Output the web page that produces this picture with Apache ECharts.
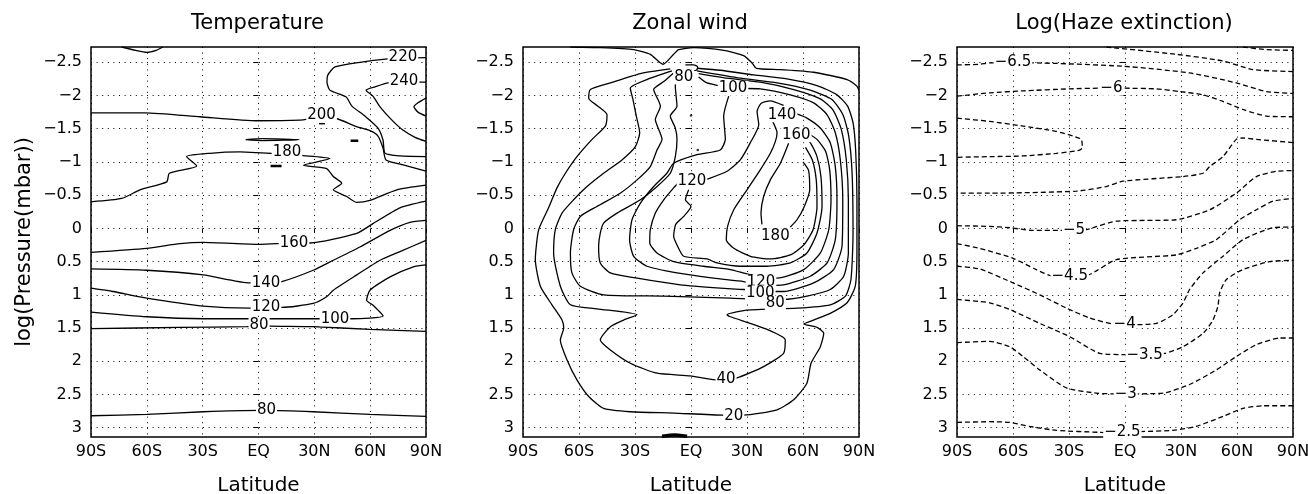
<!DOCTYPE html>
<html>
<head>
<meta charset="utf-8">
<script src="https://cdn.jsdelivr.net/npm/echarts@6.0.0/dist/echarts.min.js"></script>
<style>
  html, body { margin: 0; padding: 0; background: #fff; }
  #chart { width: 1308px; height: 494px; }
</style>
</head>
<body>
<div id="chart"></div>
<script>
// axis ticks
const latTicks = { '-90': '90S', '-60': '60S', '-30': '30S', '0': 'EQ', '30': '30N', '60': '60N', '90': '90N' };
const logpTicks = [-2.5, -2, -1.5, -1, -0.5, 0, 0.5, 1, 1.5, 2, 2.5, 3];
const titles = ['Temperature', 'Zonal wind', 'Log(Haze extinction)'];

// ---- Temperature contours  [lat, log p]
const tTopArc = [[-73.5,-2.73],[-66,-2.68],[-60.1,-2.65],[-55,-2.68],[-51.3,-2.73]];
const t220 = [[90,-2.57],[78.2,-2.56],[69.6,-2.55],[54.5,-2.50],[41.1,-2.43],[37.3,-2.31],[36.8,-2.20],[38.4,-2.08],[47,-1.98],[50.2,-1.84],[57.2,-1.69],[64.2,-1.51],[66.9,-1.33],[68,-1.13],[76,-1.09],[90,-1.08]];
const t240 = [[90,-2.20],[78.2,-2.20],[69.6,-2.19],[62.6,-2.13],[57.8,-2.08],[61.5,-1.99],[65.3,-1.83],[71.7,-1.63],[77.6,-1.48],[84.1,-1.37],[90,-1.31]];
const t260 = [[90,-1.96],[85.7,-1.89],[83.5,-1.83],[85.7,-1.75],[90,-1.69]];
const t200 = [[-90,-1.74],[-61,-1.74],[-31.4,-1.68],[-0.8,-1.62],[22.3,-1.63],[33.6,-1.66],[42.2,-1.65],[51.8,-1.54],[59.9,-1.47],[64.2,-1.39],[66.9,-1.21],[68.5,-1.03],[78.7,-0.95],[90,-0.86]];
const t180 = [[-90,-0.40],[-73.5,-0.45],[-63.7,-0.58],[-49.3,-0.70],[-47.9,-0.83],[-33.2,-0.94],[-38.6,-1.08],[-26.1,-1.13],[-9.9,-1.15],[7.1,-1.13],[15.3,-1.15],[23.2,-1.10],[38.4,-1.05],[24.1,-0.95],[36.6,-0.90],[40.2,-0.78],[44.7,-0.68],[40.2,-0.58],[47.4,-0.48],[52.8,-0.39],[59.9,-0.42],[74.3,-0.58],[90,-0.65]];
const tLens = [[-6.9,-1.335],[2,-1.35],[21.8,-1.335],[2,-1.322],[-6.9,-1.335]];
const tBit1 = [[49.5,-1.32],[53.6,-1.32]];
const tBit2 = [[6.5,-0.94],[12.4,-0.94]];
const tBit3 = [[32.5,-1.58],[35.7,-1.58]];
const t160 = [[-90,0.36],[-60.1,0.30],[-42.2,0.23],[-29.7,0.21],[0.8,0.24],[19.1,0.22],[27.7,0.22],[52.8,0.075],[61.7,-0.075],[76,-0.31],[90,-0.41]];
const t140 = [[-90,0.61],[-60.1,0.63],[-29.7,0.70],[-4.6,0.82],[4,0.82],[12.5,0.80],[29.4,0.63],[40.2,0.48],[54.5,0.28],[70.7,0.03],[81.4,-0.09],[90,-0.12]];
const t120 = [[-90,0.90],[-78.2,0.95],[-60.1,1.05],[-29.7,1.17],[-4.6,1.20],[4,1.18],[12.5,1.19],[29.4,1.13],[36.6,1.03],[40.2,0.93],[52.8,0.70],[65.3,0.48],[76,0.35],[90,0.18]];
const t100 = [[-90,1.26],[-60.1,1.33],[-29.7,1.36],[33,1.36],[41.1,1.36],[50.1,1.36],[67,1.32],[61.7,1.16],[58.1,1.08],[59.9,0.93],[70.7,0.73],[83.2,0.58],[90,0.55]];
const t80a = [[-90,1.51],[-42.2,1.49],[-6.3,1.48],[0.3,1.46],[6.2,1.47],[29.4,1.48],[59.9,1.52],[90,1.55]];
const t80b = [[-90,2.82],[-60.1,2.80],[-29.7,2.76],[0.8,2.74],[4.3,2.74],[29.4,2.76],[59.9,2.80],[90,2.83]];
const tempLabels = [['220',77.6,-2.58],['240',78.2,-2.21],['200',33.9,-1.70],['180',15.3,-1.15],['160',19.1,0.22],['140',4,0.82],['120',4,1.18],['100',41.1,1.36],['80',0.3,1.46],['80',4.3,2.74]];

// ---- Zonal wind contours
const wTop = [[-64.6,-2.73],[-48.6,-2.72],[-30.7,-2.69],[-21.8,-2.62],[-15,-2.47],[-9.3,-2.62],[-6.6,-2.69],[1.4,-2.72],[17.5,-2.68],[28.2,-2.60],[32.7,-2.49],[35,-2.41],[47.9,-2.39],[65.7,-2.35],[83.6,-2.24],[88.9,-2.14],[90,-2.08]];
const wA = [[-11.1,-2.40],[-27.1,-2.33],[-43.2,-2.19],[-53.9,-2.09],[-54.8,-1.96],[-50.4,-1.85],[-45,-1.71],[-45.9,-1.54],[-53,-1.34],[-61.1,-1.08],[-67.3,-0.83],[-71.8,-0.61],[-76.3,-0.31],[-81.6,0.02],[-83.4,0.47],[-80.7,0.87],[-74.5,1.15],[-69.1,1.38],[-68.2,1.50],[-70,1.68],[-66.4,1.98],[-61.1,2.28],[-54.8,2.53],[-46.8,2.71],[-32.5,2.76],[-9.3,2.78],[17.5,2.81],[28.2,2.81],[46.1,2.73],[55,2.58],[62.1,2.33],[64.3,2.03],[69.3,1.78],[71.1,1.58],[67.5,1.49],[60.4,1.44],[65.7,1.38],[74.6,1.28],[83.6,1.12],[88,0.87],[88.9,0.32],[88.9,-0.43],[88.2,-1.18],[86.8,-1.59],[83.9,-1.84],[78.2,-2.01],[67.5,-2.15],[51.4,-2.25],[33.6,-2.31],[15.7,-2.38],[3.2,-2.41]];
const wB = [[-10.2,-2.37],[-23.6,-2.24],[-32.5,-2.11],[-31.1,-1.94],[-29.3,-1.69],[-27.5,-1.44],[-29.8,-1.23],[-37,-1.03],[-46.8,-0.83],[-55.7,-0.63],[-62.9,-0.43],[-69.1,-0.23],[-72.7,0.02],[-73.6,0.37],[-70,0.87],[-64.6,1.15],[-50.4,1.21],[-28.9,1.30],[-36.1,1.38],[-43.2,1.48],[-48.6,1.68],[-43.2,1.83],[-32.5,2.03],[-18.2,2.18],[-0.4,2.22],[13,2.28],[24.6,2.25],[38.9,2.08],[49.6,1.88],[50.5,1.68],[38.9,1.50],[21.1,1.33],[19.3,1.30],[30,1.23],[56.8,1.20],[74.6,1.15],[82.7,1.02],[85.7,0.77],[86.8,0.07],[86.3,-0.83],[84.5,-1.39],[81.4,-1.71],[75.5,-1.94],[63.9,-2.08],[46.1,-2.19],[26.4,-2.26],[3.2,-2.37]];
const wC = [[-9.3,-2.34],[-14.6,-2.21],[-20,-2.09],[-16.4,-1.84],[-19.1,-1.64],[-15.5,-1.34],[-18.2,-1.18],[-21.8,-0.93],[-28.9,-0.73],[-37.9,-0.53],[-50.4,-0.33],[-59.3,-0.18],[-62.9,0.02],[-64.6,0.37],[-63.8,0.67],[-59.3,0.87],[-46.8,1.00],[-14.6,1.02],[21.1,1.05],[38.9,1.07],[49.6,1.07],[62.1,1.02],[74.6,0.92],[81.8,0.72],[84.3,0.37],[84.3,-0.43],[83.2,-1.03],[80.5,-1.49],[76.1,-1.78],[69.3,-1.95],[55,-2.09],[37.1,-2.20],[19.3,-2.26],[4.1,-2.33]];
const wD = [[-8.4,-2.29],[-8.4,-2.14],[-7.5,-1.84],[-11.1,-1.69],[-8.4,-1.51],[-7.5,-1.34],[-8.4,-1.08],[-11.1,-0.83],[-18.2,-0.63],[-27.1,-0.43],[-39.6,-0.23],[-46.8,-0.08],[-48.6,0.07],[-49.5,0.27],[-48.6,0.52],[-43.2,0.67],[-28.9,0.75],[-5.7,0.85],[15.7,0.90],[28.2,0.92],[38.9,0.95],[49.6,0.95],[65.7,0.82],[76.4,0.62],[80.9,0.27],[81.3,-0.43],[80,-1.03],[77.3,-1.44],[72.9,-1.71],[65.7,-1.89],[53.2,-2.01],[37.1,-2.10],[22.9,-2.11],[8.6,-2.19],[4.1,-2.28]];
const wE = [[20.2,-1.99],[17.5,-1.69],[18.4,-1.34],[15.7,-1.18],[3.2,-1.11],[-9.3,-0.98],[-12.9,-0.83],[-20,-0.63],[-27.1,-0.38],[-31.6,-0.13],[-32.9,0.17],[-30.7,0.42],[-23.6,0.57],[-7.5,0.67],[12.1,0.75],[28.2,0.80],[38.9,0.86],[49.6,0.85],[63.9,0.72],[72.9,0.52],[77.3,0.17],[78.2,-0.43],[77.3,-0.93],[74.6,-1.29],[69.3,-1.51],[62.1,-1.66],[55.9,-1.73]];
const wF1 = [[7.7,-0.73],[19.3,-0.86],[26.4,-1.03],[31.8,-1.29],[36.3,-1.56],[35.4,-1.76],[37.5,-1.88],[42.5,-1.92],[49.6,-1.85]];
const wF2 = [[-6.6,-0.69],[-9.3,-0.61],[-14.6,-0.43],[-19.1,-0.23],[-21.8,0.02],[-22.1,0.22],[-18.2,0.37],[-9.3,0.50],[6.8,0.57],[21.1,0.62],[31.8,0.70],[46.1,0.75],[60.4,0.62],[69.3,0.37],[73.8,0.02],[75,-0.43],[74.3,-0.88],[72.1,-1.16],[67.5,-1.34],[62.1,-1.44]];
const wG = [[-1.25,-0.58],[-3,-0.43],[0,-0.33],[-3.9,-0.18],[-8.2,-0.06],[-9.3,0.12],[-7.5,0.25],[-3.9,0.42],[8.6,0.46],[13.9,0.52],[26.4,0.57],[40.7,0.57],[53.2,0.52],[62.1,0.37],[67.5,0.07],[70.2,-0.33],[69.6,-0.78],[67.5,-1.08],[63.9,-1.29],[61.8,-1.35]];
const wH = [[43.4,-1.63],[46.1,-1.44],[45.2,-1.31],[42.5,-1.13],[37.1,-0.88],[30,-0.58],[22.9,-0.28],[19.6,-0.03],[18.9,0.17],[22.9,0.30],[31.8,0.42],[42.5,0.46],[53.2,0.40],[60.4,0.25],[65.4,0.02],[67.5,-0.33],[67.1,-0.73],[65,-1.03],[61.3,-1.22]];
const wI = [[52.3,-1.28],[47.9,-0.98],[42.5,-0.73],[38.9,-0.48],[37.5,-0.23],[38,-0.06]];
const wJ = [[60,-1.00],[63,-0.87],[63.6,-0.58],[60.7,-0.33],[56.8,-0.13],[53.2,-0.02]];
const wSmall = [[-3,-2.46],[1.4,-2.46],[3.6,-2.43],[2.9,-2.38],[-1.25,-2.37]];
const wBlob = [[-15.5,3.13],[-9,3.11],[-2.1,3.13]];
const wDots = [[0,-1.70],[3.6,-1.18]];
const windLabels = [['80',-3.9,-2.28],['100',22.5,-2.11],['140',48.8,-1.71],['160',56.4,-1.41],['120',0.5,-0.71],['180',45.2,0.11],['120',37.5,0.81],['100',37.1,0.97],['80',45.2,1.13],['40',18.75,2.27],['20',22.9,2.82]];

// ---- Haze extinction contours (dashed)
const hTop = [[63.2,-2.73],[75.7,-2.69],[90,-2.68]];
const hA = [[-10,-2.73],[27.5,-2.62],[52.5,-2.52],[68.6,-2.39],[90,-2.36]];
const h65 = [[-90,-2.46],[-77.9,-2.47],[-72.5,-2.49],[-65.4,-2.49],[-49.3,-2.49],[-1.1,-2.44],[34.6,-2.34],[59.6,-2.19],[75.7,-2.06],[90,-2.03]];
const h60 = [[-90,-1.99],[-72.5,-2.04],[-54.6,-2.07],[-29.6,-2.10],[-13.6,-2.11],[-2,-2.11],[16.8,-2.10],[29.3,-2.06],[41.8,-2.01],[52.5,-1.91],[63.2,-1.79],[75.7,-1.69],[90,-1.68]];
const hLoop = [[-90,-1.66],[-72.5,-1.61],[-54.6,-1.54],[-36.8,-1.46],[-27.9,-1.39],[-23.4,-1.34],[-22.9,-1.21],[-25.2,-1.17],[-36.8,-1.13],[-54.6,-1.09],[-72.5,-1.08],[-90,-1.07]];
const h55 = [[90,-1.29],[70.4,-1.34],[63.2,-1.36],[59.6,-1.34],[52.5,-1.08],[45.4,-0.93],[41.8,-0.83],[31.1,-0.78],[-1.1,-0.71],[-10,-0.63],[-26.1,-0.56],[-72.5,-0.53],[-90,-0.53]];
const h50 = [[-90,-0.04],[-72.5,-0.03],[-61.8,-0.01],[-49.3,0.03],[-35,0.03],[-26.1,0.03],[-20.7,0.02],[-4.6,-0.11],[11.4,-0.12],[27.5,-0.13],[45.4,-0.28],[59.6,-0.53],[70.4,-0.78],[81.1,-0.86],[90,-0.87]];
const h45 = [[-90,0.23],[-77.9,0.30],[-60,0.45],[-47.5,0.62],[-38.6,0.72],[-19.8,0.70],[-4.6,0.47],[27.5,0.40],[38.2,0.30],[48.9,0.17],[61.4,-0.13],[70.4,-0.28],[79.3,-0.41],[90,-0.45]];
const h40 = [[-90,0.57],[-77.9,0.61],[-60,0.82],[-45.7,1.00],[-31.4,1.20],[-18.9,1.35],[-6.4,1.44],[3.4,1.45],[16.8,1.43],[25.7,1.30],[31.1,1.12],[34.6,0.92],[41.8,0.67],[52.5,0.42],[63.2,0.17],[79.3,-0.01],[90,-0.02]];
const h35 = [[-90,1.07],[-77.9,1.10],[-72.5,1.12],[-61.8,1.22],[-45.7,1.43],[-29.6,1.63],[-13.6,1.88],[0.7,1.90],[21.3,1.88],[31.1,1.78],[41.8,1.58],[47.1,1.38],[49.8,1.17],[50.7,0.97],[54.3,0.77],[63.2,0.62],[77.5,0.50],[90,0.48]];
const h30 = [[-90,1.72],[-72.5,1.70],[-61.8,1.78],[-54.6,1.93],[-45.7,2.13],[-31.4,2.40],[-15.4,2.48],[-6.4,2.49],[4.3,2.49],[20.4,2.48],[34.6,2.35],[48.9,2.13],[59.6,1.93],[70.4,1.75],[82.9,1.65],[90,1.65]];
const h25 = [[-90,2.92],[-72.5,2.91],[-61.8,2.92],[-51.1,2.98],[-36.8,3.04],[-13.6,3.07],[-1.4,3.08],[7.9,3.06],[25.7,3.04],[38.2,2.98],[52.5,2.83],[63.2,2.71],[73.9,2.67],[90,2.67]];
const hazeLabels = [['\u22126.5',-60,-2.50],['\u22126',-7.3,-2.11],['\u22125',-27.3,0.03],['\u22124.5',-29.6,0.72],['\u22124',-0.2,1.44],['\u22123.5',10.5,1.91],['\u22123',0.4,2.50],['\u22122.5',-1.4,3.07]];

const font = 'DejaVu Sans';
const boxes = [{ left: 91, width: 335 }, { left: 523, width: 336 }, { left: 957, width: 336 }];

function contour(data, i, dashed, width) {
  return {
    type: 'line', xAxisIndex: i, yAxisIndex: i, data: data,
    symbol: 'none', smooth: 0.2, silent: true, z: 3,
    lineStyle: { color: '#000', width: width || 1.3, type: dashed ? [5, 3] : 'solid' }
  };
}
function labels(list, i) {
  return {
    type: 'scatter', xAxisIndex: i, yAxisIndex: i, symbolSize: 1, silent: true, z: 6,
    itemStyle: { color: '#fff', opacity: 1 },
    data: list.map(d => ({ name: d[0], value: [d[1], d[2]] })),
    label: {
      show: true, position: 'inside', formatter: '{b}', color: '#000', opacity: 1,
      textBorderWidth: 0, fontSize: 15, fontFamily: font, backgroundColor: '#fff', padding: [0, 1]
    }
  };
}

const chart = echarts.init(document.getElementById('chart'));
chart.setOption({
  animation: false,
  backgroundColor: '#fff',
  title: titles.map((t, i) => ({
    text: t, left: boxes[i].left + boxes[i].width / 2 - 6, top: 8, textAlign: 'center',
    textStyle: { fontSize: 21, fontWeight: 'normal', fontFamily: font, color: '#000' }
  })),
  grid: boxes.map(b => ({
    left: b.left, width: b.width, top: 47, height: 390, outerBoundsMode: 'none', containLabel: false,
    show: true, borderColor: '#000', borderWidth: 1.5, backgroundColor: '#fff'
  })),
  xAxis: boxes.map((b, i) => ({
    type: 'value', gridIndex: i, min: -90, max: 90, interval: 30,
    name: 'Latitude', nameLocation: 'middle', nameGap: 39,
    nameTextStyle: { fontSize: 20, fontFamily: font, color: '#000' },
    axisLine: { show: false },
    axisTick: { show: true, inside: false, length: 4, lineStyle: { color: '#000' } },
    axisLabel: { margin: 7, fontSize: 16, fontFamily: font, color: '#000', formatter: v => latTicks[String(v)] },
    splitLine: { show: true, lineStyle: { color: '#000', width: 1, type: [1, 4.6] } }
  })),
  yAxis: boxes.map((b, i) => ({
    type: 'value', gridIndex: i, inverse: true, min: -2.73, max: 3.14,
    name: i === 0 ? 'log(Pressure(mbar))' : '', nameLocation: 'middle', nameGap: 56, nameRotate: 90,
    nameTextStyle: { fontSize: 21, fontFamily: font, color: '#000' },
    axisLine: { show: false },
    axisTick: { show: true, inside: false, length: 5, customValues: logpTicks, lineStyle: { color: '#000' } },
    axisLabel: {
      margin: 9, fontSize: 16, fontFamily: font, color: '#000', customValues: logpTicks,
      formatter: v => (v < 0 ? '\u2212' + Math.abs(v) : String(v))
    },
    splitLine: { show: true, lineStyle: { color: '#000', width: 1, type: [1, 4.6] } }
  })),
  series: [
    // temperature
    contour(tTopArc, 0), contour(t220, 0), contour(t240, 0), contour(t260, 0), contour(t200, 0),
    contour(t180, 0), contour(tLens, 0), contour(tBit1, 0, false, 2.5), contour(tBit2, 0, false, 2.5),
    contour(tBit3, 0, false, 2), contour(t160, 0), contour(t140, 0), contour(t120, 0),
    contour(t100, 0), contour(t80a, 0), contour(t80b, 0),
    labels(tempLabels, 0),
    // zonal wind
    contour(wTop, 1), contour(wA, 1), contour(wB, 1), contour(wC, 1), contour(wD, 1), contour(wE, 1),
    contour(wF1, 1), contour(wF2, 1), contour(wG, 1), contour(wH, 1), contour(wI, 1), contour(wJ, 1),
    contour(wSmall, 1), contour(wBlob, 1, false, 3.5),
    { type: 'scatter', xAxisIndex: 1, yAxisIndex: 1, data: wDots, symbolSize: 2.5, itemStyle: { color: '#000' }, silent: true, z: 4 },
    labels(windLabels, 1),
    // haze
    contour(hTop, 2, true), contour(hA, 2, true), contour(h65, 2, true), contour(h60, 2, true),
    contour(hLoop, 2, true), contour(h55, 2, true), contour(h50, 2, true), contour(h45, 2, true),
    contour(h40, 2, true), contour(h35, 2, true), contour(h30, 2, true), contour(h25, 2, true),
    labels(hazeLabels, 2)
  ]
});
</script>
</body>
</html>
